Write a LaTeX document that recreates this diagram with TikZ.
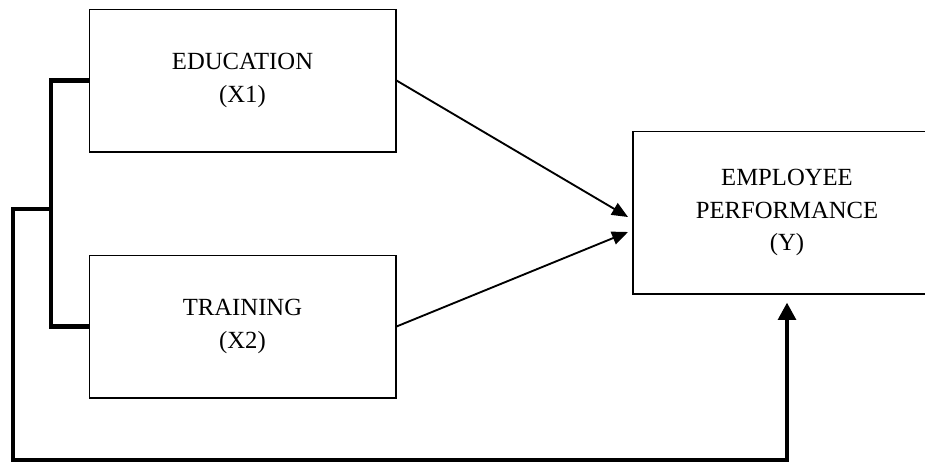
\documentclass[tikz,border=0pt]{standalone}
\usepackage{fontspec}
\setmainfont{Liberation Serif}
\usetikzlibrary{arrows.meta}

\begin{document}
\begin{tikzpicture}[x=0.75pt, y=-0.75pt,
    box/.style={draw, line width=1pt, align=center, font=\fontsize{18.5}{24.5}\selectfont},
    thinarrow/.style={line width=1.4pt, -{Triangle[length=12pt, width=10pt]}},
    thickline/.style={line width=3.6pt}]
    \useasboundingbox (0,0) rectangle (925,464);

    % Draw nodes
    \node[box, minimum width=230pt, minimum height=107pt] (edu) at (242.5, 80.5) {EDUCATION\\(X1)};
    \node[box, minimum width=230pt, minimum height=107pt] (trn) at (242.5, 326.5) {TRAINING\\(X2)};
    \node[box, minimum width=231pt, minimum height=122pt] (emp) at (787, 212.5) {EMPLOYEE\\PERFORMANCE\\(Y)};

    \coordinate (in1) at (628, 217);
    \coordinate (in2) at (628, 232);
    \coordinate (split) at (51, 209);

    % Draw edges
    \draw[thinarrow] (edu.east) -- (in1); % education to performance
    \draw[thinarrow] (trn.east) -- (in2); % training to performance
    \draw[thickline] (edu.west) -| (split) |- (trn.west); % bracket
    \draw[thickline, -{Triangle[length=13pt, width=13pt]}, shorten >=6pt]
        (split) -- (13, 209) -- (13, 460) -| (emp.south); % joint effect
\end{tikzpicture}
\end{document}
